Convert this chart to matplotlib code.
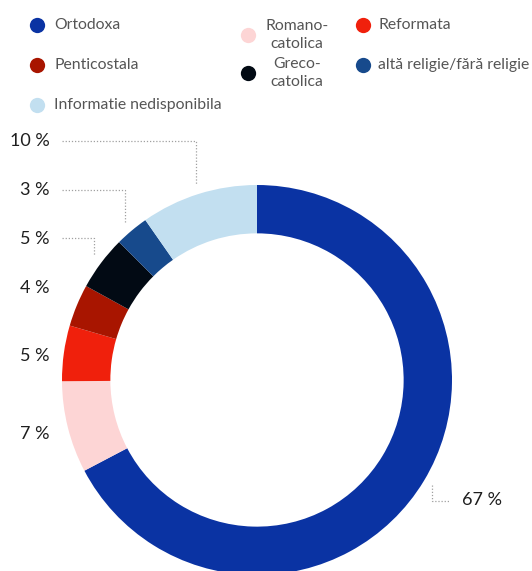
import matplotlib
matplotlib.use("Agg")
import matplotlib.pyplot as plt

categories = ["Ortodoxa", "Romano-\ncatolica", "Reformata", "Penticostala",
              "Greco-\ncatolica", "altă religie/fără religie", "Informatie nedisponibila"]
values = [67.3, 7.6, 4.6, 3.5, 4.5, 2.8, 9.7]
labels = ["67 %", "7 %", "5 %", "4 %", "5 %", "3 %", "10 %"]
colors = ["#0a33a3", "#fdd5d5", "#f0200c", "#a81500", "#020a14", "#174a8c", "#c2dff0"]

plt.rcParams['font.family'] = ['Lato', 'DejaVu Sans']

W, H = 532, 571
fig = plt.figure(figsize=(W / 100, H / 100), dpi=100)

# donut axes: center (257,380) px, outer radius 195 px
cx, cy, R = 257, 380, 195
ax = fig.add_axes([(cx - R) / W, (H - cy - R) / H, 2 * R / W, 2 * R / H])
ax.pie(values, colors=colors, startangle=90, counterclock=False, radius=1,
       wedgeprops=dict(width=0.248, linewidth=0))
ax.set_xlim(-1, 1)
ax.set_ylim(-1, 1)
ax.set_aspect('equal')
ax.axis('off')

# overlay axes in pixel coordinates
ov = fig.add_axes([0, 0, 1, 1], facecolor='none')
ov.set_xlim(0, W)
ov.set_ylim(H, 0)
ov.axis('off')

numcol = "#1e1e1e"
lead = dict(color="#a0a0a0", lw=0.9, ls=(0, (1, 1.5)))

# left labels (right aligned)
left_pos = {6: 141, 5: 190, 4: 239, 3: 288, 2: 356, 1: 434}
for i, y in left_pos.items():
    ov.text(50, y, labels[i], ha='right', va='center', fontsize=13, color=numcol)

ov.plot([62, 196, 196], [141, 141, 185], **lead)
ov.plot([62, 125, 125], [190, 190, 222], **lead)
ov.plot([62, 94, 94], [238, 238, 256], **lead)

ov.text(462, 500, labels[0], ha='left', va='center', fontsize=13, color=numcol)
ov.plot([432, 432, 450], [485, 501, 501], **lead)

# legend
legcol = "#555555"
fs = 11.3
leg = [
    (0, 37, 25, 54, 25, 'left'),
    (3, 37, 65, 54, 65, 'left'),
    (6, 37, 105, 54, 105, 'left'),
    (1, 248, 35, 297, 35, 'center'),
    (4, 248, 73, 297, 73, 'center'),
    (2, 363, 25, 378, 25, 'left'),
    (5, 363, 65, 378, 65, 'left'),
]
for i, mx, my, tx, ty, ha in leg:
    ov.plot([mx], [my], marker='o', ms=11, color=colors[i], mec='none', ls='none')
    ov.text(tx, ty, categories[i], ha=ha, va='center', fontsize=fs, color=legcol,
            linespacing=1.3, multialignment='center')

fig.savefig("out.png", dpi=100)
